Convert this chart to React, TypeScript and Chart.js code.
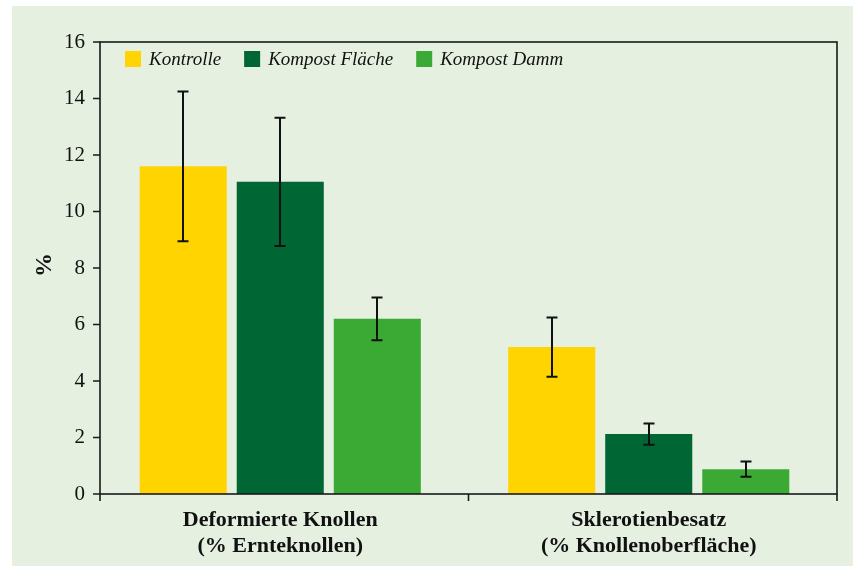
import React, { useEffect, useRef } from "react";
import { Chart, registerables } from "chart.js";

Chart.register(...registerables);

const categories: string[][] = [
  ["Deformierte Knollen", "(% Ernteknollen)"],
  ["Sklerotienbesatz", "(% Knollenoberfläche)"],
];
const seriesNames = ["Kontrolle", "Kompost Fläche", "Kompost Damm"];
const kontrolle = [11.6, 5.2];
const kompostFlaeche = [11.05, 2.12];
const kompostDamm = [6.2, 0.88];
const errKontrolle = [2.65, 1.05];
const errFlaeche = [2.27, 0.38];
const errDamm = [0.76, 0.27];
const yMin = 0;
const yMax = 16;
const yStep = 2;
const yTitle = "%";

const colors = ["#FFD400", "#006633", "#3AAA35"];
const errors = [errKontrolle, errFlaeche, errDamm];
const FONT = "'Liberation Serif', 'Times New Roman', serif";
const SHIFT = 4; // frame sits 4px right of the category band

const framePlugin = {
  id: "frame",
  beforeDraw(chart: any) {
    const ctx = chart.ctx;
    ctx.save();
    ctx.fillStyle = "#ffffff";
    ctx.fillRect(0, 0, chart.width, chart.height);
    ctx.fillStyle = "#E5F0E1";
    ctx.fillRect(12, 6, 841, 560);
    ctx.restore();
  },
  afterDatasetsDraw(chart: any) {
    const ctx = chart.ctx;
    const ys = chart.scales.y;
    ctx.save();
    ctx.strokeStyle = "#111";
    ctx.lineWidth = 2;
    chart.data.datasets.forEach((ds: any, di: number) => {
      const meta = chart.getDatasetMeta(di);
      meta.data.forEach((el: any, i: number) => {
        const v = ds.data[i];
        const e = errors[di][i];
        const x = Math.round(el.x);
        const yt = ys.getPixelForValue(v + e);
        const yb = ys.getPixelForValue(v - e);
        ctx.beginPath();
        ctx.moveTo(x, yt);
        ctx.lineTo(x, yb);
        ctx.moveTo(x - 5.5, yt);
        ctx.lineTo(x + 5.5, yt);
        ctx.moveTo(x - 5.5, yb);
        ctx.lineTo(x + 5.5, yb);
        ctx.stroke();
      });
    });
    ctx.restore();
  },
  afterDraw(chart: any) {
    const ctx = chart.ctx;
    const a = chart.chartArea;
    const ys = chart.scales.y;
    const L = a.left + SHIFT;
    const R = a.right + SHIFT;
    const T = a.top;
    const B = a.bottom;
    ctx.save();
    ctx.strokeStyle = "#1a1a1a";
    ctx.lineWidth = 1.6;
    ctx.strokeRect(L, T, R - L, B - T);
    // tick marks
    ctx.beginPath();
    for (let v = yMin; v <= yMax; v += yStep) {
      const y = ys.getPixelForValue(v);
      ctx.moveTo(L - 7, y);
      ctx.lineTo(L, y);
    }
    const n = chart.data.labels.length;
    for (let i = 0; i <= n; i++) {
      const x = L + ((R - L) * i) / n;
      ctx.moveTo(x, B);
      ctx.lineTo(x, B + 7);
    }
    ctx.stroke();
    // legend
    let x = L + 25;
    const yc = T + 17;
    ctx.font = `italic 19px ${FONT}`;
    ctx.textBaseline = "middle";
    ctx.textAlign = "left";
    chart.data.datasets.forEach((ds: any, i: number) => {
      ctx.fillStyle = ds.backgroundColor;
      ctx.fillRect(x, yc - 8, 16, 16);
      ctx.fillStyle = "#111";
      ctx.fillText(ds.label, x + 24, yc + 1);
      x += 24 + ctx.measureText(ds.label).width + 23;
    });
    // y title
    ctx.translate(45, 265);
    ctx.rotate(-Math.PI / 2);
    ctx.font = `bold 24px ${FONT}`;
    ctx.textAlign = "center";
    ctx.fillStyle = "#111";
    ctx.fillText(yTitle, 0, 0);
    ctx.restore();
  },
};

export default function App() {
  const ref = useRef<HTMLCanvasElement>(null);
  useEffect(() => {
    const values = [kontrolle, kompostFlaeche, kompostDamm];
    const chart = new Chart(ref.current!, {
      type: "bar",
      data: {
        labels: categories,
        datasets: seriesNames.map((n, i) => ({
          label: n,
          data: values[i],
          backgroundColor: colors[i],
          borderWidth: 0,
          categoryPercentage: 0.79,
          barPercentage: 0.897,
        })),
      },
      options: {
        animation: false,
        responsive: false,
        devicePixelRatio: 1,
        layout: { padding: { left: 0, top: 42, right: 26 + SHIFT, bottom: 0 } },
        plugins: { legend: { display: false }, tooltip: { enabled: false }, title: { display: false } },
        scales: {
          x: {
            border: { display: false },
            grid: { display: false, drawOnChartArea: false, drawTicks: false },
            ticks: { color: "#111", font: { family: FONT, size: 22, weight: "bold", lineHeight: 1.18 }, padding: 13, maxRotation: 0 },
            afterFit: (s: any) => { s.height = 72; },
          },
          y: {
            min: yMin,
            max: yMax,
            border: { display: false },
            grid: { display: false, drawOnChartArea: false, drawTicks: false },
            ticks: { stepSize: yStep, color: "#111", font: { family: FONT, size: 21 }, padding: 11 },
            afterFit: (s: any) => { s.width = 100 - SHIFT; },
          },
        },
      },
      plugins: [framePlugin],
    } as any);
    return () => chart.destroy();
  }, []);
  return (
    <div style={{ position: "absolute", left: 0, top: 0, width: 863, height: 566 }}>
      <canvas ref={ref} width={863} height={566} style={{ display: "block" }} />
    </div>
  );
}
